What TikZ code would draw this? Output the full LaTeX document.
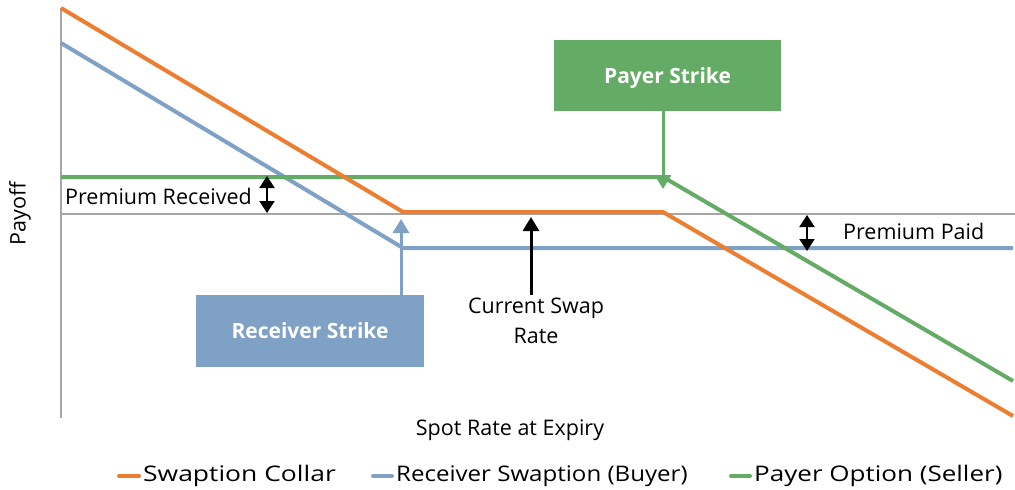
\documentclass[tikz,border=0pt]{standalone}
\usepackage{fontspec}
\setmainfont{Open Sans}
\usetikzlibrary{arrows.meta}
\definecolor{collar}{HTML}{ED7D31}
\definecolor{recv}{HTML}{7FA1C5}
\definecolor{payer}{HTML}{64AB66}
\definecolor{axisgrey}{HTML}{A6A6A6}
\newcommand{\keytext}[2][1.23]{\scalebox{#1}[1]{#2}}
\begin{document}
\begin{tikzpicture}[x=1pt,y=-1pt]
\tikzstyle{pay}=[line width=4pt]
\tikzstyle{lbl}=[font=\fontsize{21.5}{30}\selectfont, inner sep=0pt]
\tikzstyle{strike}=[font=\fontsize{21}{26}\selectfont\bfseries, text=white, inner sep=0pt, text depth=0pt]
\tikzstyle{gap}=[line width=2pt, {Triangle[length=12pt,width=15pt]}-{Triangle[length=12pt,width=15pt]}]
\tikzstyle{ptr}=[line width=3pt, -{Triangle[length=14pt,width=16pt]}]
\tikzstyle{key}=[line width=4pt, line cap=round]
\useasboundingbox (0,0) rectangle (1015,490);
%axes
\draw[axisgrey, line width=1.3pt] (61,8) -- (61,418);
\draw[axisgrey, line width=1.3pt] (61,214) -- (1015,214);
%payoffs
\draw[pay, recv] (61,43) -- (403,248) -- (1013,248);
\draw[pay, payer] (61,177) -- (663,177) -- (1013,381);
\draw[pay, collar] (61,8) -- (403,212) -- (663,212) -- (1013,416);
%strikes
\node[strike, fill=payer, minimum width=227pt, minimum height=71pt] (ps) at (667.5,75.5) {Payer Strike};
\node[strike, fill=recv, minimum width=228pt, minimum height=72pt] (rs) at (310,331) {Receiver Strike};
\coordinate (pstip) at (663,189);
\coordinate (rstip) at (401,219);
\draw[ptr, payer] (pstip |- ps.south) -- (pstip);
\draw[ptr, recv] (rstip |- rs.north) -- (rstip);
%current rate
\node[lbl, align=center] (csr) at (536,321) {Current Swap\\Rate};
\coordinate (csrtip) at (531,217);
\draw[ptr, black] (csrtip |- csr.north) ++(0,-3) -- (csrtip);
%premiums
\node[lbl, anchor=west] (prec) at (65,196) {Premium Received};
\coordinate (prtop) at (267,176);
\coordinate (prbot) at (267,213);
\draw[gap] (prtop) -- (prbot);
\node[lbl, anchor=west] (ppaid) at (843,231) {Premium Paid};
\coordinate (pptop) at (807,215);
\coordinate (ppbot) at (807,251);
\draw[gap] (pptop) -- (ppbot);
%axis titles
\node[lbl, rotate=90] (yt) at (20,214) {Payoff};
\node[lbl] (xt) at (510,430) {Spot Rate at Expiry};
%legend
\def\ly{476}
\draw[key, collar] (119,\ly) -- (139,\ly);
\node[lbl, anchor=west] (k1) at (143,\ly) {\keytext{Swaption Collar}};
\draw[key, recv] (373,\ly) -- (392,\ly);
\node[lbl, anchor=west] (k2) at (396,\ly) {\keytext[1.12]{Receiver Swaption (Buyer)}};
\draw[key, payer] (731,\ly) -- (750,\ly);
\node[lbl, anchor=west] (k3) at (754,\ly) {\keytext[1.21]{Payer Option (Seller)}};
\end{tikzpicture}
\end{document}
